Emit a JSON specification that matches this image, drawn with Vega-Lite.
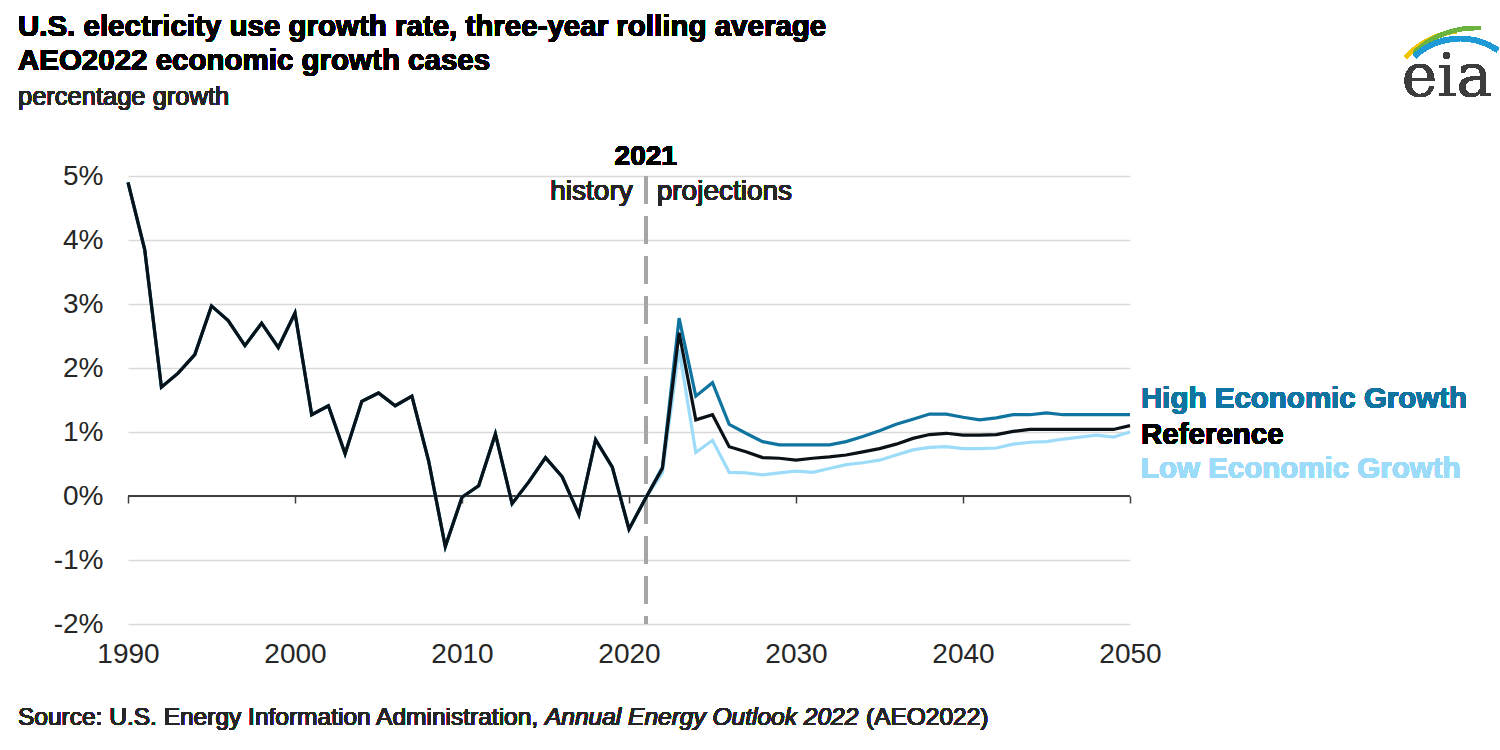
{
  "$schema": "https://vega.github.io/schema/vega-lite/v6.json",
  "autosize": {"type": "none"},
  "width": 1002,
  "height": 448,
  "padding": {"left": 128, "top": 176, "right": 370, "bottom": 126},
  "background": "white",
  "config": {
    "font": "Liberation Sans",
    "view": {"stroke": null},
    "axis": {"labelFont": "Liberation Sans", "labelColor": "#262626", "titleFont": "Liberation Sans"}
  },
  "data": {
    "values": [
      {"year": 1990, "ref": 4.90, "high": 4.90, "low": 4.90},
      {"year": 1991, "ref": 3.85, "high": 3.85, "low": 3.85},
      {"year": 1992, "ref": 1.70, "high": 1.70, "low": 1.70},
      {"year": 1993, "ref": 1.92, "high": 1.92, "low": 1.92},
      {"year": 1994, "ref": 2.21, "high": 2.21, "low": 2.21},
      {"year": 1995, "ref": 2.97, "high": 2.97, "low": 2.97},
      {"year": 1996, "ref": 2.74, "high": 2.74, "low": 2.74},
      {"year": 1997, "ref": 2.35, "high": 2.35, "low": 2.35},
      {"year": 1998, "ref": 2.70, "high": 2.70, "low": 2.70},
      {"year": 1999, "ref": 2.32, "high": 2.32, "low": 2.32},
      {"year": 2000, "ref": 2.86, "high": 2.86, "low": 2.86},
      {"year": 2001, "ref": 1.27, "high": 1.27, "low": 1.27},
      {"year": 2002, "ref": 1.41, "high": 1.41, "low": 1.41},
      {"year": 2003, "ref": 0.66, "high": 0.66, "low": 0.66},
      {"year": 2004, "ref": 1.48, "high": 1.48, "low": 1.48},
      {"year": 2005, "ref": 1.61, "high": 1.61, "low": 1.61},
      {"year": 2006, "ref": 1.41, "high": 1.41, "low": 1.41},
      {"year": 2007, "ref": 1.56, "high": 1.56, "low": 1.56},
      {"year": 2008, "ref": 0.55, "high": 0.55, "low": 0.55},
      {"year": 2009, "ref": -0.79, "high": -0.79, "low": -0.79},
      {"year": 2010, "ref": -0.02, "high": -0.02, "low": -0.02},
      {"year": 2011, "ref": 0.16, "high": 0.16, "low": 0.16},
      {"year": 2012, "ref": 0.97, "high": 0.97, "low": 0.97},
      {"year": 2013, "ref": -0.12, "high": -0.12, "low": -0.12},
      {"year": 2014, "ref": 0.22, "high": 0.22, "low": 0.22},
      {"year": 2015, "ref": 0.60, "high": 0.60, "low": 0.60},
      {"year": 2016, "ref": 0.30, "high": 0.30, "low": 0.30},
      {"year": 2017, "ref": -0.29, "high": -0.29, "low": -0.29},
      {"year": 2018, "ref": 0.88, "high": 0.88, "low": 0.88},
      {"year": 2019, "ref": 0.45, "high": 0.45, "low": 0.45},
      {"year": 2020, "ref": -0.52, "high": -0.52, "low": -0.52},
      {"year": 2021, "ref": -0.03, "high": -0.03, "low": -0.03},
      {"year": 2022, "ref": 0.43, "high": 0.45, "low": 0.36},
      {"year": 2023, "ref": 2.55, "high": 2.78, "low": 2.29},
      {"year": 2024, "ref": 1.19, "high": 1.56, "low": 0.68},
      {"year": 2025, "ref": 1.27, "high": 1.77, "low": 0.87},
      {"year": 2026, "ref": 0.77, "high": 1.12, "low": 0.37},
      {"year": 2027, "ref": 0.69, "high": 0.98, "low": 0.36},
      {"year": 2028, "ref": 0.60, "high": 0.85, "low": 0.33},
      {"year": 2029, "ref": 0.59, "high": 0.80, "low": 0.36},
      {"year": 2030, "ref": 0.56, "high": 0.80, "low": 0.39},
      {"year": 2031, "ref": 0.59, "high": 0.80, "low": 0.37},
      {"year": 2032, "ref": 0.61, "high": 0.80, "low": 0.43},
      {"year": 2033, "ref": 0.64, "high": 0.85, "low": 0.49},
      {"year": 2034, "ref": 0.69, "high": 0.93, "low": 0.52},
      {"year": 2035, "ref": 0.74, "high": 1.02, "low": 0.56},
      {"year": 2036, "ref": 0.81, "high": 1.12, "low": 0.64},
      {"year": 2037, "ref": 0.90, "high": 1.20, "low": 0.72},
      {"year": 2038, "ref": 0.96, "high": 1.28, "low": 0.76},
      {"year": 2039, "ref": 0.98, "high": 1.28, "low": 0.77},
      {"year": 2040, "ref": 0.95, "high": 1.23, "low": 0.74},
      {"year": 2041, "ref": 0.95, "high": 1.19, "low": 0.74},
      {"year": 2042, "ref": 0.96, "high": 1.22, "low": 0.75},
      {"year": 2043, "ref": 1.01, "high": 1.27, "low": 0.81},
      {"year": 2044, "ref": 1.04, "high": 1.27, "low": 0.84},
      {"year": 2045, "ref": 1.04, "high": 1.30, "low": 0.85},
      {"year": 2046, "ref": 1.04, "high": 1.27, "low": 0.89},
      {"year": 2047, "ref": 1.04, "high": 1.27, "low": 0.92},
      {"year": 2048, "ref": 1.04, "high": 1.27, "low": 0.95},
      {"year": 2049, "ref": 1.04, "high": 1.27, "low": 0.92},
      {"year": 2050, "ref": 1.10, "high": 1.27, "low": 1.00}
    ]
  },
  "resolve": {"axis": {"x": "independent", "y": "independent"}},
  "layer": [
    {
      "mark": {"type": "line", "color": "#000000", "strokeWidth": 3, "opacity": 0},
      "encoding": {
        "x": {"field": "year", "type": "quantitative", "scale": {"domain": [1990, 2050], "nice": false, "zero": false},
          "axis": {"title": null, "orient": "bottom", "values": [1990, 2000, 2010, 2020, 2030, 2040, 2050], "format": "d", "labelFontSize": 28, "labelPadding": 16, "ticks": false, "domain": false, "grid": false, "labelFlush": false}},
        "y": {"field": "ref", "type": "quantitative", "scale": {"domain": [-2, 5], "nice": false, "zero": false},
          "axis": {"title": null, "values": [-2, -1, 0, 1, 2, 3, 4, 5], "labelExpr": "datum.value + '%'", "labelFontSize": 28, "labelPadding": 25, "ticks": false, "domain": false, "grid": true, "gridColor": "#d9d9d9", "gridWidth": 1.5}}
      }
    },
    {
      "mark": {"type": "rule", "color": "#404040", "strokeWidth": 1.5},
      "encoding": {
        "x": {"datum": 1990, "type": "quantitative",
          "axis": {"title": null, "orient": "bottom", "offset": -128, "values": [1990, 2000, 2010, 2020, 2030, 2040, 2050], "labels": false, "domain": false, "ticks": true, "tickSize": 7, "tickColor": "#404040", "tickWidth": 1.5, "grid": false}},
        "x2": {"datum": 2050},
        "y": {"datum": 0, "type": "quantitative", "axis": null}
      }
    },
    {
      "mark": {"type": "rule", "color": "#a6a6a6", "strokeWidth": 3, "strokeDash": [28, 12]},
      "encoding": {
        "x": {"datum": 2021, "type": "quantitative", "axis": null},
        "y": {"datum": 5, "type": "quantitative", "axis": null},
        "y2": {"datum": -2}
      }
    },
    {
      "mark": {"type": "line", "color": "#9ddcf9", "strokeWidth": 3.2},
      "encoding": {
        "x": {"field": "year", "type": "quantitative", "axis": null},
        "y": {"field": "low", "type": "quantitative", "axis": null}
      }
    },
    {
      "mark": {"type": "line", "color": "#0f74a0", "strokeWidth": 3.2},
      "encoding": {
        "x": {"field": "year", "type": "quantitative", "axis": null},
        "y": {"field": "high", "type": "quantitative", "axis": null}
      }
    },
    {
      "mark": {"type": "line", "color": "#0a1218", "strokeWidth": 3.2},
      "encoding": {
        "x": {"field": "year", "type": "quantitative", "axis": null},
        "y": {"field": "ref", "type": "quantitative", "axis": null}
      }
    },
    {
      "mark": {"type": "text", "text": "U.S. electricity use growth rate, three-year rolling average", "fontSize": 29.5, "fontWeight": "bold", "color": "#000000", "align": "left", "baseline": "middle"},
      "encoding": {
        "x": {"datum": 1983.41, "type": "quantitative", "axis": null},
        "y": {"datum": 7.33, "type": "quantitative", "axis": null}
      }
    },
    {
      "mark": {"type": "text", "text": "AEO2022 economic growth cases", "fontSize": 29.5, "fontWeight": "bold", "color": "#000000", "align": "left", "baseline": "middle"},
      "encoding": {
        "x": {"datum": 1983.41, "type": "quantitative", "axis": null},
        "y": {"datum": 6.8, "type": "quantitative", "axis": null}
      }
    },
    {
      "mark": {"type": "text", "text": "percentage growth", "fontSize": 25.5, "color": "#262626", "align": "left", "baseline": "middle"},
      "encoding": {
        "x": {"datum": 1983.41, "type": "quantitative", "axis": null},
        "y": {"datum": 6.23, "type": "quantitative", "axis": null}
      }
    },
    {
      "mark": {"type": "text", "text": "2021", "fontSize": 28, "fontWeight": "bold", "color": "#000000", "align": "center", "baseline": "middle"},
      "encoding": {
        "x": {"datum": 2021, "type": "quantitative", "axis": null},
        "y": {"datum": 5.3, "type": "quantitative", "axis": null}
      }
    },
    {
      "mark": {"type": "text", "text": "history", "fontSize": 28, "color": "#262626", "align": "right", "baseline": "middle", "dx": -13},
      "encoding": {
        "x": {"datum": 2021, "type": "quantitative", "axis": null},
        "y": {"datum": 4.75, "type": "quantitative", "axis": null}
      }
    },
    {
      "mark": {"type": "text", "text": "projections", "fontSize": 28, "color": "#262626", "align": "left", "baseline": "middle", "dx": 11},
      "encoding": {
        "x": {"datum": 2021, "type": "quantitative", "axis": null},
        "y": {"datum": 4.75, "type": "quantitative", "axis": null}
      }
    },
    {
      "mark": {"type": "text", "text": "High Economic Growth", "fontSize": 29.5, "fontWeight": "bold", "color": "#0f74a0", "align": "left", "baseline": "middle", "dx": 11},
      "encoding": {
        "x": {"datum": 2050, "type": "quantitative", "axis": null},
        "y": {"datum": 1.52, "type": "quantitative", "axis": null}
      }
    },
    {
      "mark": {"type": "text", "text": "Reference", "fontSize": 29.5, "fontWeight": "bold", "color": "#000000", "align": "left", "baseline": "middle", "dx": 11},
      "encoding": {
        "x": {"datum": 2050, "type": "quantitative", "axis": null},
        "y": {"datum": 0.95, "type": "quantitative", "axis": null}
      }
    },
    {
      "mark": {"type": "text", "text": "Low Economic Growth", "fontSize": 29.5, "fontWeight": "bold", "color": "#9ddcf9", "align": "left", "baseline": "middle", "dx": 11},
      "encoding": {
        "x": {"datum": 2050, "type": "quantitative", "axis": null},
        "y": {"datum": 0.42, "type": "quantitative", "axis": null}
      }
    },
    {
      "mark": {"type": "text", "text": "Source: U.S. Energy Information Administration,", "fontSize": 24.5, "color": "#262626", "align": "left", "baseline": "middle"},
      "encoding": {
        "x": {"datum": 1983.41, "type": "quantitative", "axis": null},
        "y": {"datum": -3.47, "type": "quantitative", "axis": null}
      }
    },
    {
      "mark": {"type": "text", "text": "Annual Energy Outlook 2022", "fontSize": 24.5, "fontStyle": "italic", "color": "#262626", "align": "left", "baseline": "middle"},
      "encoding": {
        "x": {"datum": 2014.97, "type": "quantitative", "axis": null},
        "y": {"datum": -3.47, "type": "quantitative", "axis": null}
      }
    },
    {
      "mark": {"type": "text", "text": "(AEO2022)", "fontSize": 24.5, "color": "#262626", "align": "left", "baseline": "middle"},
      "encoding": {
        "x": {"datum": 2034.19, "type": "quantitative", "axis": null},
        "y": {"datum": -3.47, "type": "quantitative", "axis": null}
      }
    },
    {
      "mark": {"type": "arc", "color": "#f2c300", "radius": 92, "radius2": 88, "theta": -0.8, "theta2": -0.15},
      "encoding": {
        "x": {"datum": 2070.36, "type": "quantitative", "axis": null},
        "y": {"datum": 5.875, "type": "quantitative", "axis": null}
      }
    },
    {
      "mark": {"type": "arc", "color": "#6cb33f", "radius": 88, "radius2": 84, "theta": -0.78, "theta2": 0.06},
      "encoding": {
        "x": {"datum": 2070.66, "type": "quantitative", "axis": null},
        "y": {"datum": 5.97, "type": "quantitative", "axis": null}
      }
    },
    {
      "mark": {"type": "arc", "color": "#1e9bd7", "radius": 69, "radius2": 64, "theta": -0.75, "theta2": 0.6},
      "encoding": {
        "x": {"datum": 2069.76, "type": "quantitative", "axis": null},
        "y": {"datum": 6.11, "type": "quantitative", "axis": null}
      }
    },
    {
      "mark": {"type": "text", "text": "eia", "font": "DejaVu Serif", "fontSize": 60, "color": "#3d3d3d", "align": "center", "baseline": "alphabetic"},
      "encoding": {
        "x": {"datum": 2068.98, "type": "quantitative", "axis": null},
        "y": {"datum": 6.25, "type": "quantitative", "axis": null}
      }
    }
  ]
}
